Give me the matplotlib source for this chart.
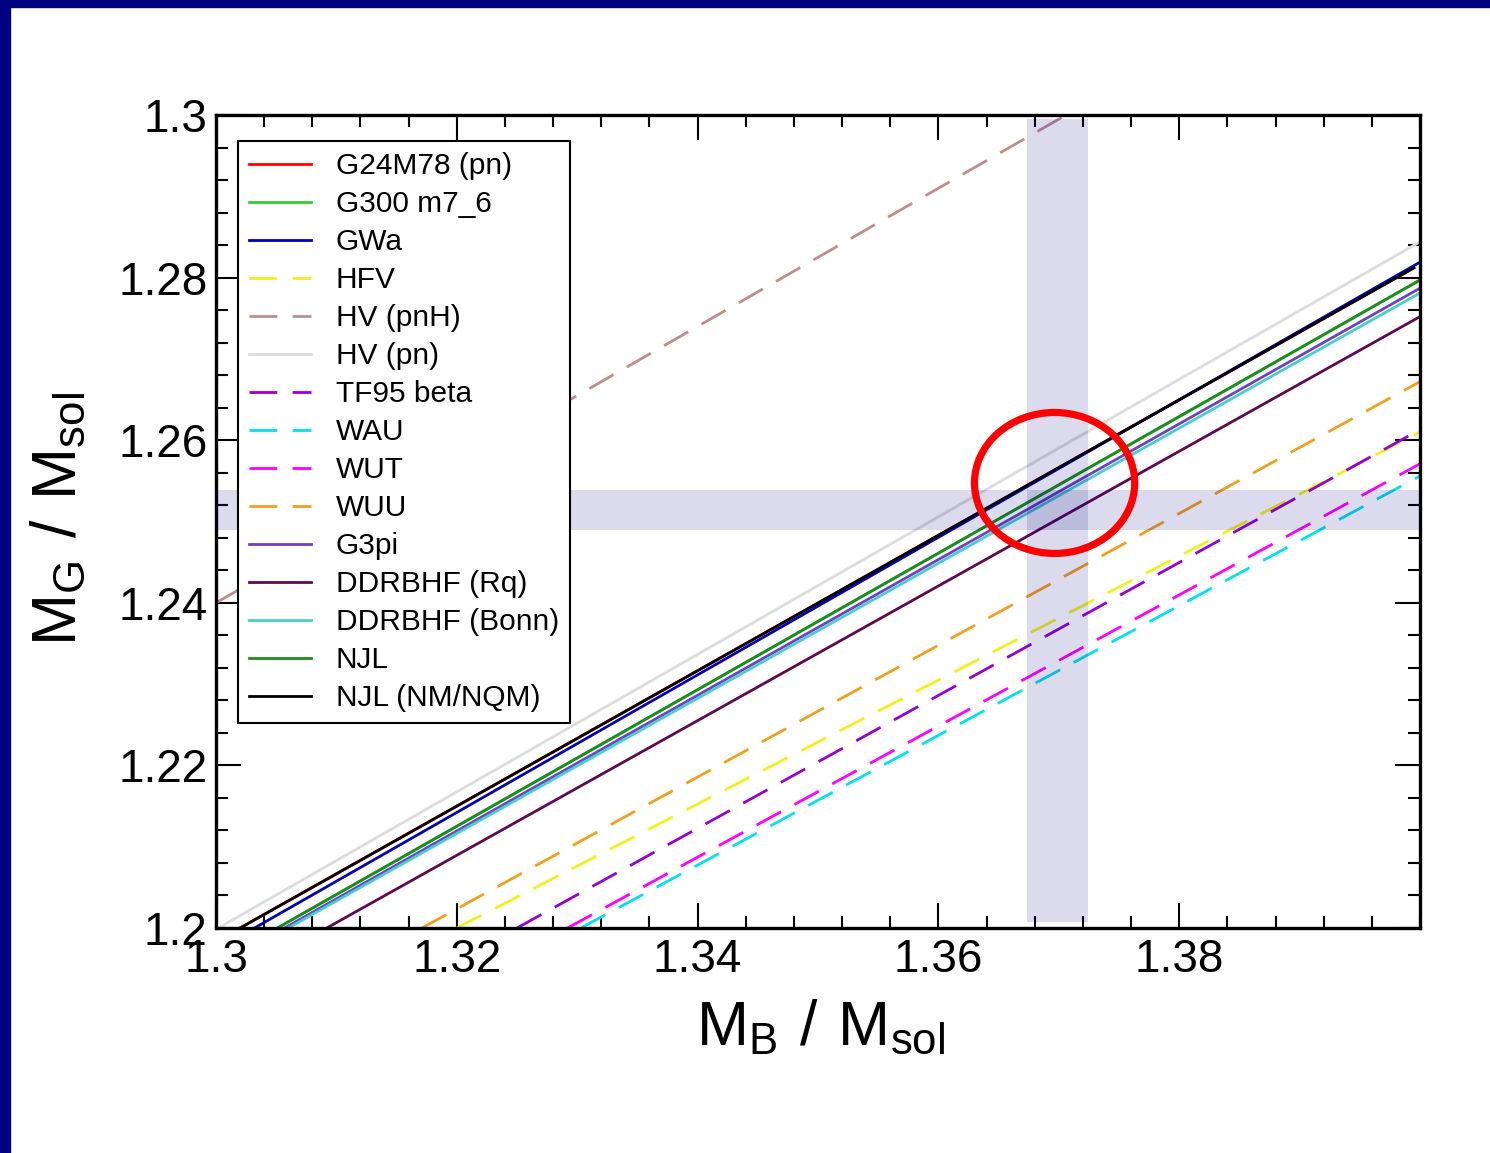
import matplotlib
matplotlib.use("Agg")
import matplotlib.pyplot as plt
from matplotlib.patches import Rectangle, Ellipse
from matplotlib.ticker import MultipleLocator, FormatStrFormatter

plt.rcParams['font.family'] = ['Liberation Sans', 'DejaVu Sans']
plt.rcParams['mathtext.default'] = 'regular'

# model names as in the legend
names = ["G24M78 (pn)", "G300 m7_6", "GWa", "HFV", "HV (pnH)", "HV (pn)",
         "TF95 beta", "WAU", "WUT", "WUU", "G3pi", "DDRBHF (Rq)",
         "DDRBHF (Bonn)", "NJL", "NJL (NM/NQM)"]
colors = ["#ff0000", "#33cc33", "#0000b4", "#f0f020", "#bc8f8f", "#dcdcdc",
          "#9400d3", "#00e0ee", "#ff00ff", "#f0a020", "#7040c8", "#5e0a4e",
          "#48d0c8", "#1e8c1e", "#000000"]
dashed = [False, False, False, True, True, False,
          True, True, True, True, False, False,
          False, False, False]

# end points of each M_G(M_B) curve (baryonic mass, gravitational mass)
mb_start = [1.3020, 1.3051, 1.3032, 1.3200, 1.3000, 1.3002,
            1.3250, 1.3303, 1.3292, 1.3171, 1.3057, 1.3092,
            1.3060, 1.3051, 1.3020]
mg_start = [1.2000, 1.2000, 1.2000, 1.2000, 1.2400, 1.2000,
            1.2000, 1.2000, 1.2000, 1.2000, 1.2000, 1.2000,
            1.2000, 1.2000, 1.2000]
mb_end = [1.3995, 1.4000, 1.4000, 1.4000, 1.3706, 1.4000,
          1.4000, 1.4000, 1.4000, 1.4000, 1.4000, 1.4000,
          1.4000, 1.4000, 1.3995]
mg_end = [1.2812, 1.2797, 1.2819, 1.2610, 1.3000, 1.2844,
          1.2613, 1.2556, 1.2571, 1.2672, 1.2787, 1.2752,
          1.2781, 1.2797, 1.2812]

# constraint bands and highlighted region
band_mb = (1.3674, 1.3724)
band_mb_bottom = 1.2007
band_mg = (1.2489, 1.2539)
circle_center = (1.36965, 1.25474)
circle_size = (0.01331, 0.01734)

fig = plt.figure(figsize=(14.9, 11.53), dpi=100)
fig.patch.set_facecolor("white")
# navy frame of the slide
fig.patches.append(Rectangle((0, 1 - 7 / 1153), 1, 7 / 1153, transform=fig.transFigure,
                             color="#000080", zorder=0))
fig.patches.append(Rectangle((0, 0), 10 / 1490, 1, transform=fig.transFigure,
                             color="#000080", zorder=0))

ax = fig.add_axes([216 / 1490, 1 - 928 / 1153, 1204 / 1490, 813 / 1153])

for i in range(len(names)):
    ls = (0, (10, 5.5)) if dashed[i] else "-"
    ax.plot([mb_start[i], mb_end[i]], [mg_start[i], mg_end[i]],
            color=colors[i], lw=2.0, linestyle=ls, label=names[i], zorder=2)

ax.add_patch(Rectangle((band_mb[0], band_mb_bottom), band_mb[1] - band_mb[0],
                       1.2995 - band_mb_bottom, color="#000080", alpha=0.14,
                       lw=0, zorder=3))
ax.add_patch(Rectangle((1.3, band_mg[0]), 0.1, band_mg[1] - band_mg[0],
                       color="#000080", alpha=0.14, lw=0, zorder=3))
ax.add_patch(Ellipse(circle_center, circle_size[0], circle_size[1],
                     fill=False, edgecolor="#ff0000", lw=5.2, zorder=4))

ax.set_xlim(1.3, 1.4)
ax.set_ylim(1.2, 1.3)
ax.set_xticks([1.30, 1.32, 1.34, 1.36, 1.38])
ax.set_yticks([1.20, 1.22, 1.24, 1.26, 1.28, 1.30])
ax.xaxis.set_minor_locator(MultipleLocator(0.004))
ax.yaxis.set_minor_locator(MultipleLocator(0.004))
ax.xaxis.set_major_formatter(FormatStrFormatter("%g"))
ax.yaxis.set_major_formatter(FormatStrFormatter("%g"))
ax.tick_params(which="both", direction="in", top=True, right=True, width=1.5)
ax.tick_params(which="major", length=18, labelsize=33)
ax.tick_params(which="minor", length=8.5)
ax.tick_params(axis="x", which="major", pad=7)
ax.tick_params(axis="y", which="major", pad=6)
for sp in ax.spines.values():
    sp.set_linewidth(2.4)

leg = ax.legend(loc="upper left", bbox_to_anchor=(22 / 1204, 1 - 26 / 813),
                borderaxespad=0, fontsize=21.5, frameon=True, fancybox=False,
                edgecolor="black", framealpha=1, labelspacing=0.335,
                handlelength=2.07, handletextpad=0.84, borderpad=0.37)
leg.get_frame().set_linewidth(1.5)
leg.set_zorder(10)

fig.text(821 / 1490, 1 - 1028 / 1153, r"$M_B\ /\ M_{sol}$", fontsize=45,
         ha="center", va="center")
fig.text(60 / 1490, 1 - 519 / 1153, r"$M_G\ /\ M_{sol}$", fontsize=45,
         ha="center", va="center", rotation=90)

fig.savefig("out.png", dpi=100)
